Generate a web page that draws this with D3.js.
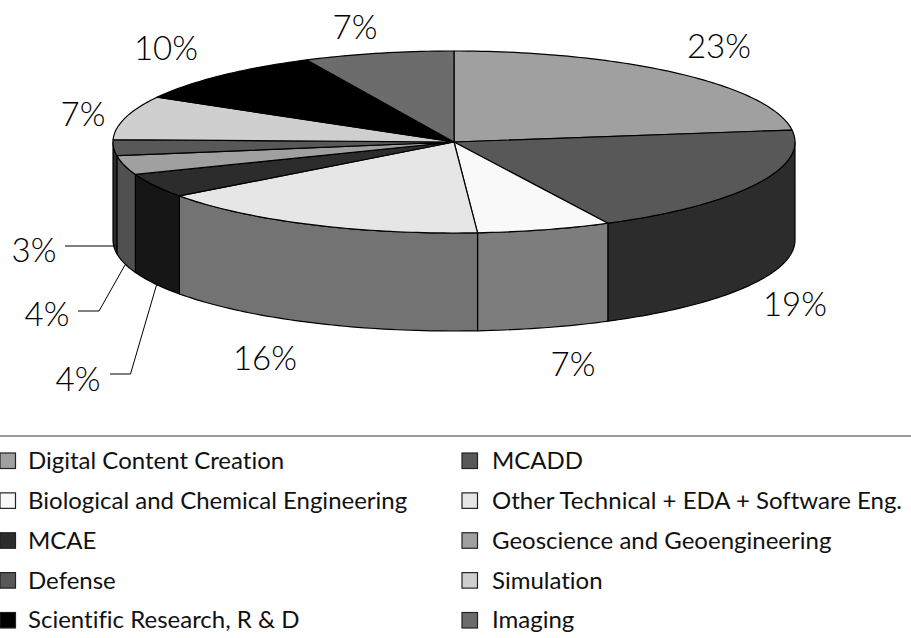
<!DOCTYPE html>
<html>
<head>
<meta charset="utf-8">
<script src="https://cdn.jsdelivr.net/npm/d3@7"></script>
<style>
  html, body { margin: 0; padding: 0; background: #fff; overflow: hidden; }
  text { font-family: Lato, "Open Sans", sans-serif; fill: #000; font-variant-ligatures: none; }
  .pct { font-size: 33px; font-weight: 300; text-anchor: middle; }
  .leg { font-size: 24px; font-weight: 400; fill: #111; }
</style>
</head>
<body>
<svg id="chart" width="911" height="638"></svg>
<script>
// slices, clockwise from twelve o'clock
var categories = ["Digital Content Creation", "MCADD", "Biological and Chemical Engineering",
  "Other Technical + EDA + Software Eng.", "MCAE", "Geoscience and Geoengineering",
  "Defense", "Simulation", "Scientific Research, R & D", "Imaging"];
var shares = [22.9, 19.65, 6.35, 16, 4.3, 3.4, 2.8, 7.8, 9.7, 7.1];
var shades = ["#a0a0a0", "#585858", "#f9f9f9", "#e6e6e6", "#2c2c2c", "#a0a0a0", "#585858", "#cfcfcf", "#000000", "#6c6c6c"];
var labelText = ["23%", "19%", "7%", "16%", "4%", "4%", "3%", "7%", "10%", "7%"];
var legendLeft = ["Digital Content Creation", "Biological and Chemical Engineering", "MCAE", "Defense", "Scientific Research, R & D"];
var legendRight = ["MCADD", "Other Technical + EDA + Software Eng.", "Geoscience and Geoengineering", "Simulation", "Imaging"];

var cx = 454, cy = 142, rx = 341, ry = 91, depth = 98;
var svg = d3.select("#chart");

var pie = d3.pie().sort(null).value(d => d)(shares);

function px(a) { return cx + rx * Math.sin(a); }
function py(a) { return cy - ry * Math.cos(a); }

// points along the rim between two angles
function rim(a0, a1, dy) {
  var n = Math.max(2, Math.ceil((a1 - a0) / 0.02));
  return d3.range(n + 1).map(i => {
    var a = a0 + (a1 - a0) * i / n;
    return [px(a), py(a) + dy];
  });
}
var line = d3.line();

// wall: only the front half of the ellipse is visible
var halfPi = Math.PI / 2;
var walls = svg.append("g");
pie.forEach(function(s, i) {
  var a0 = Math.max(s.startAngle, halfPi), a1 = Math.min(s.endAngle, 3 * halfPi);
  if (a1 <= a0) return;
  var pts = rim(a0, a1, 0).concat(rim(a0, a1, depth).reverse());
  var c = d3.color(shades[i]);
  walls.append("path")
    .attr("d", line(pts) + "Z")
    .attr("fill", d3.rgb(c.r / 2, c.g / 2, c.b / 2))
    .attr("stroke", "#000").attr("stroke-width", 1.2).attr("stroke-linejoin", "round");
});

// top face
var top_ = svg.append("g");
pie.forEach(function(s, i) {
  var pts = [[cx, cy]].concat(rim(s.startAngle, s.endAngle, 0));
  top_.append("path")
    .attr("d", line(pts) + "Z")
    .attr("fill", shades[i])
    .attr("stroke", "#000").attr("stroke-width", 1.2).attr("stroke-linejoin", "round");
});

// percent labels
var labelPos = [[719, 46], [795, 304], [573, 364], [265, 358], [78, 379], [47, 314], [34, 250], [83, 114], [166, 48], [355, 27]];
labelText.forEach(function(t, i) {
  svg.append("text").attr("class", "pct")
    .attr("x", labelPos[i][0]).attr("y", labelPos[i][1])
    .attr("dy", "0.35em").text(t);
});

// leader lines for the thin slices
var leaders = [
  [[110, 374], [130.5, 374], [156.5, 285]],
  [[78, 311], [99, 311], [125, 265]],
  [[65, 246], [115, 246]]
];
leaders.forEach(function(l) {
  svg.append("path").attr("d", line(l)).attr("fill", "none")
    .attr("stroke", "#000").attr("stroke-width", 1);
});

// legend
svg.append("line").attr("x1", 0).attr("x2", 911).attr("y1", 436).attr("y2", 436)
  .attr("stroke", "#777").attr("stroke-width", 1.5);

var rowY = d3.scalePoint().domain(d3.range(5)).range([460.5, 620]);
function drawLegend(names, swatchX, textX) {
  names.forEach(function(n, i) {
    var y = rowY(i);
    svg.append("rect").attr("x", swatchX).attr("y", y - 7.5).attr("width", 15.5).attr("height", 15.5)
      .attr("fill", shades[categories.indexOf(n)])
      .attr("stroke", "#222").attr("stroke-width", 1.2);
    svg.append("text").attr("class", "leg").attr("x", textX).attr("y", y)
      .attr("dy", "0.35em").text(n);
  });
}
drawLegend(legendLeft, 0, 28);
drawLegend(legendRight, 462, 492);
</script>
</body>
</html>
